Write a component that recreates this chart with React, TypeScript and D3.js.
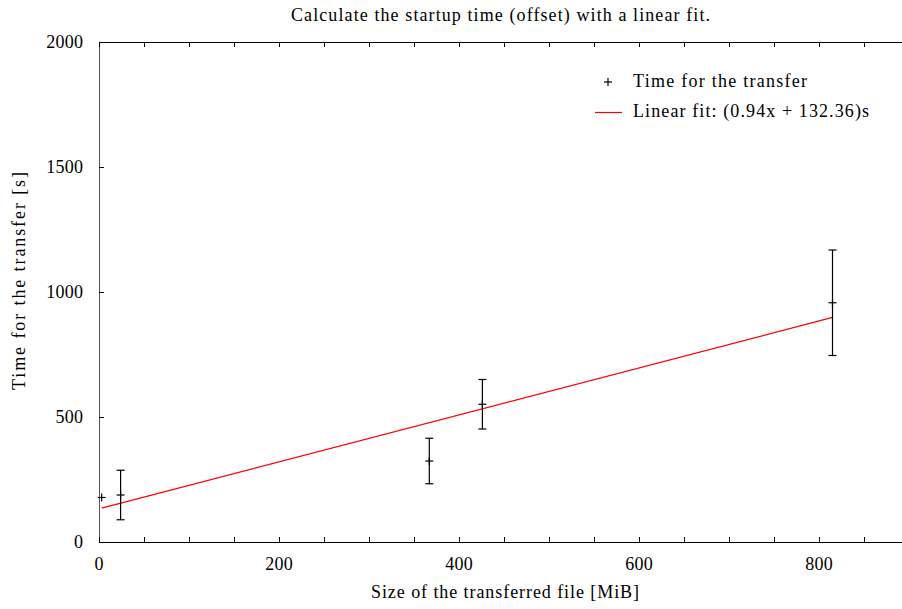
import React from 'react';
import * as d3 from 'd3';

// --- data ---
const sizesMiB = [3, 24, 367, 426, 815];
const times = [178, 188, 324, 551, 957];
const timeErrors = [0, 99, 91, 99, 211];
const fitSlope = 0.94;
const fitOffset = 132.36;
const xTicks = [0, 200, 400, 600, 800];
const xMinorTicks = d3.range(0, 901, 50);
const yTicks = [0, 500, 1000, 1500, 2000];

const W = 902;
const H = 609;
const margin = { left: 99, top: 42, bottom: 67 };
const FONT = '"Liberation Serif", "DejaVu Serif", serif';

export default function App() {
  const x = d3.scaleLinear().domain([0, 900]).range([margin.left, margin.left + 810]);
  const y = d3.scaleLinear().domain([0, 2000]).range([H - margin.bottom, margin.top]);
  const x0 = x(0), x1 = x(900), yb = y(0), yt = y(2000);

  const points = sizesMiB.map((s, i) => ({ s, t: times[i], e: timeErrors[i] }));
  const fitX = d3.extent(sizesMiB) as [number, number];
  const fitLine = d3.line<number>().x(d => x(d)).y(d => y(fitSlope * d + fitOffset));

  return (
    <svg width={W} height={H} style={{ display: 'block', position: 'absolute', left: 0, top: 0 }}
      fontFamily={FONT} fill="#000">
      <rect width={W} height={H} fill="#fff" />
      {/* frame */}
      <g stroke="#000" strokeWidth={1} fill="none" shapeRendering="crispEdges">
        <line x1={x0} x2={x1} y1={yb} y2={yb} />
        <line x1={x0} x2={x1} y1={yt} y2={yt} />
        <line x1={x0} x2={x0} y1={yt} y2={yb} stroke="#555" />
        {xMinorTicks.map(v => (
          <g key={v}>
            <line x1={x(v)} x2={x(v)} y1={yb} y2={yb - 5} />
            <line x1={x(v)} x2={x(v)} y1={yt} y2={yt + 5} />
          </g>
        ))}
        {yTicks.map(v => (
          <line key={v} x1={x0} x2={x0 + 5} y1={y(v)} y2={y(v)} />
        ))}
      </g>
      {/* tick labels */}
      <g fontSize={18}>
        {xTicks.map(v => (
          <text key={v} x={x(v)} y={yb + 28} textAnchor="middle"
            textLength={String(v).length * 9.2} lengthAdjust="spacing">{v}</text>
        ))}
        {yTicks.map(v => (
          <text key={v} x={x0 - 16} y={y(v) + 6} textAnchor="end"
            textLength={String(v).length * 9.2} lengthAdjust="spacing">{v}</text>
        ))}
      </g>
      {/* titles */}
      <text x={500.5} y={21} fontSize={18} textAnchor="middle" textLength={419} lengthAdjust="spacing">
        Calculate the startup time (offset) with a linear fit.
      </text>
      <text x={505} y={598} fontSize={18} textAnchor="middle" textLength={268} lengthAdjust="spacing">
        Size of the transferred file [MiB]
      </text>
      <text transform={`translate(25,${281}) rotate(-90)`} fontSize={18} textAnchor="middle"
        textLength={218} lengthAdjust="spacing">
        Time for the transfer [s]
      </text>
      {/* fit */}
      <path d={fitLine(fitX) ?? ''} stroke="#ff0000" strokeWidth={1.2} fill="none" />
      {/* data with error bars */}
      <g stroke="#000" strokeWidth={1.2} fill="none">
        {points.map((p, i) => (
          <g key={i}>
            {p.e > 0 && (
              <>
                <line x1={x(p.s)} x2={x(p.s)} y1={y(p.t - p.e)} y2={y(p.t + p.e)} />
                <line x1={x(p.s) - 4} x2={x(p.s) + 4} y1={y(p.t - p.e)} y2={y(p.t - p.e)} />
                <line x1={x(p.s) - 4} x2={x(p.s) + 4} y1={y(p.t + p.e)} y2={y(p.t + p.e)} />
              </>
            )}
            <line x1={x(p.s) - 4} x2={x(p.s) + 4} y1={y(p.t)} y2={y(p.t)} />
            <line x1={x(p.s)} x2={x(p.s)} y1={y(p.t) - 4} y2={y(p.t) + 4} />
          </g>
        ))}
      </g>
      {/* legend */}
      <g fontSize={18}>
        <g stroke="#000" strokeWidth={1.2}>
          <line x1={604} x2={612} y1={82} y2={82} />
          <line x1={608} x2={608} y1={78} y2={86} />
        </g>
        <text x={633} y={87} textLength={174} lengthAdjust="spacing">Time for the transfer</text>
        <line x1={595} x2={622} y1={112.5} y2={112.5} stroke="#ff0000" strokeWidth={1.2} />
        <text x={633} y={117} textLength={236} lengthAdjust="spacing">Linear fit: (0.94x + 132.36)s</text>
      </g>
    </svg>
  );
}
